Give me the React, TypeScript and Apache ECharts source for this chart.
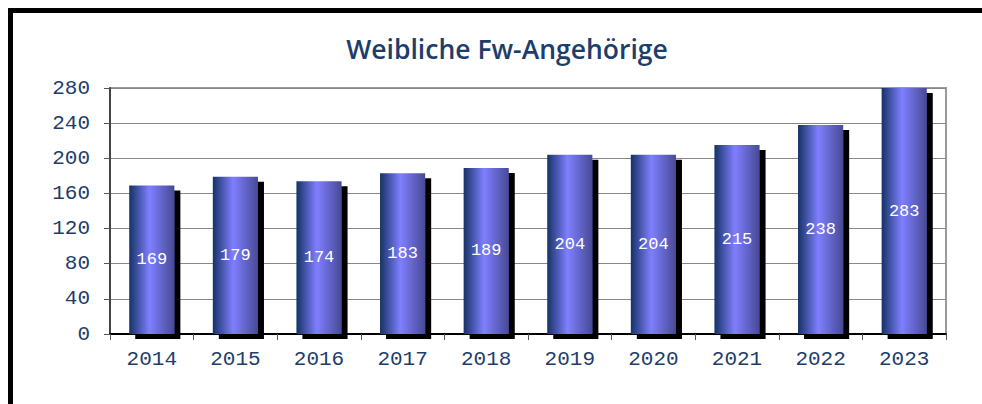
import React, { useEffect, useRef } from "react";
import * as echarts from "echarts";

const title = "Weibliche Fw-Angehörige";
const years = ["2014", "2015", "2016", "2017", "2018", "2019", "2020", "2021", "2022", "2023"];
const members = [169, 179, 174, 183, 189, 204, 204, 215, 238, 283];
const yTicks = { min: 0, max: 280, interval: 40 };

export default function App() {
  const ref = useRef<HTMLDivElement>(null);
  useEffect(() => {
    if (!ref.current) return;
    const chart = echarts.init(ref.current, null, { renderer: "svg" });
    const navy = "#1d3d6b";
    chart.setOption({
      animation: false,
      backgroundColor: "#ffffff",
      title: {
        text: title,
        left: 502,
        top: 30,
        textAlign: "center",
        textStyle: {
          fontFamily: "Open Sans",
          fontWeight: 600,
          fontSize: 26.5,
          color: navy,
        },
      },
      graphic: [
        {
          type: "rect",
          shape: { x: 10.5, y: 10.5, width: 1000, height: 500 },
          style: { fill: "none", stroke: "#000", lineWidth: 5 },
          silent: true,
          z: 100,
        },
      ],
      grid: { left: 110, top: 88, right: 36, bottom: 70, show: true, borderColor: "#9a9a9a", borderWidth: 2, backgroundColor: "transparent" },
      xAxis: {
        type: "category",
        data: years,
        axisLine: { show: true, lineStyle: { color: "#000", width: 2 } },
        axisTick: { show: true, length: 6, lineStyle: { color: "#555" } },
        axisLabel: { fontFamily: "Liberation Mono", fontSize: 21, color: navy, margin: 15 },
      },
      yAxis: {
        type: "value",
        min: yTicks.min,
        max: yTicks.max,
        interval: yTicks.interval,
        axisLine: { show: true, lineStyle: { color: "#444", width: 2 } },
        axisTick: { show: true, length: 6, lineStyle: { color: "#555" } },
        splitLine: { show: true, lineStyle: { color: "#888", width: 1 } },
        axisLabel: { fontFamily: "Liberation Mono", fontSize: 21, color: navy, margin: 20 },
      },
      series: [
        {
          type: "bar",
          data: members,
          barWidth: "54%",
          clip: true,
          itemStyle: {
            color: new echarts.graphic.LinearGradient(0, 0, 1, 0, [
              { offset: 0, color: "#163266" },
              { offset: 0.45, color: "#7f7fff" },
              { offset: 1, color: "#474a94" },
            ]),
            shadowColor: "#000",
            shadowBlur: 0,
            shadowOffsetX: 6,
            shadowOffsetY: 5,
          },
          label: {
            show: true,
            position: "inside",
            color: "#ffffff",
            fontFamily: "Liberation Mono",
            fontWeight: "normal",
            fontSize: 17,
          },
        },
      ],
    });
    return () => chart.dispose();
  }, []);
  return <div ref={ref} style={{ position: "fixed", left: 0, top: 0, width: 982, height: 404 }} />;
}
